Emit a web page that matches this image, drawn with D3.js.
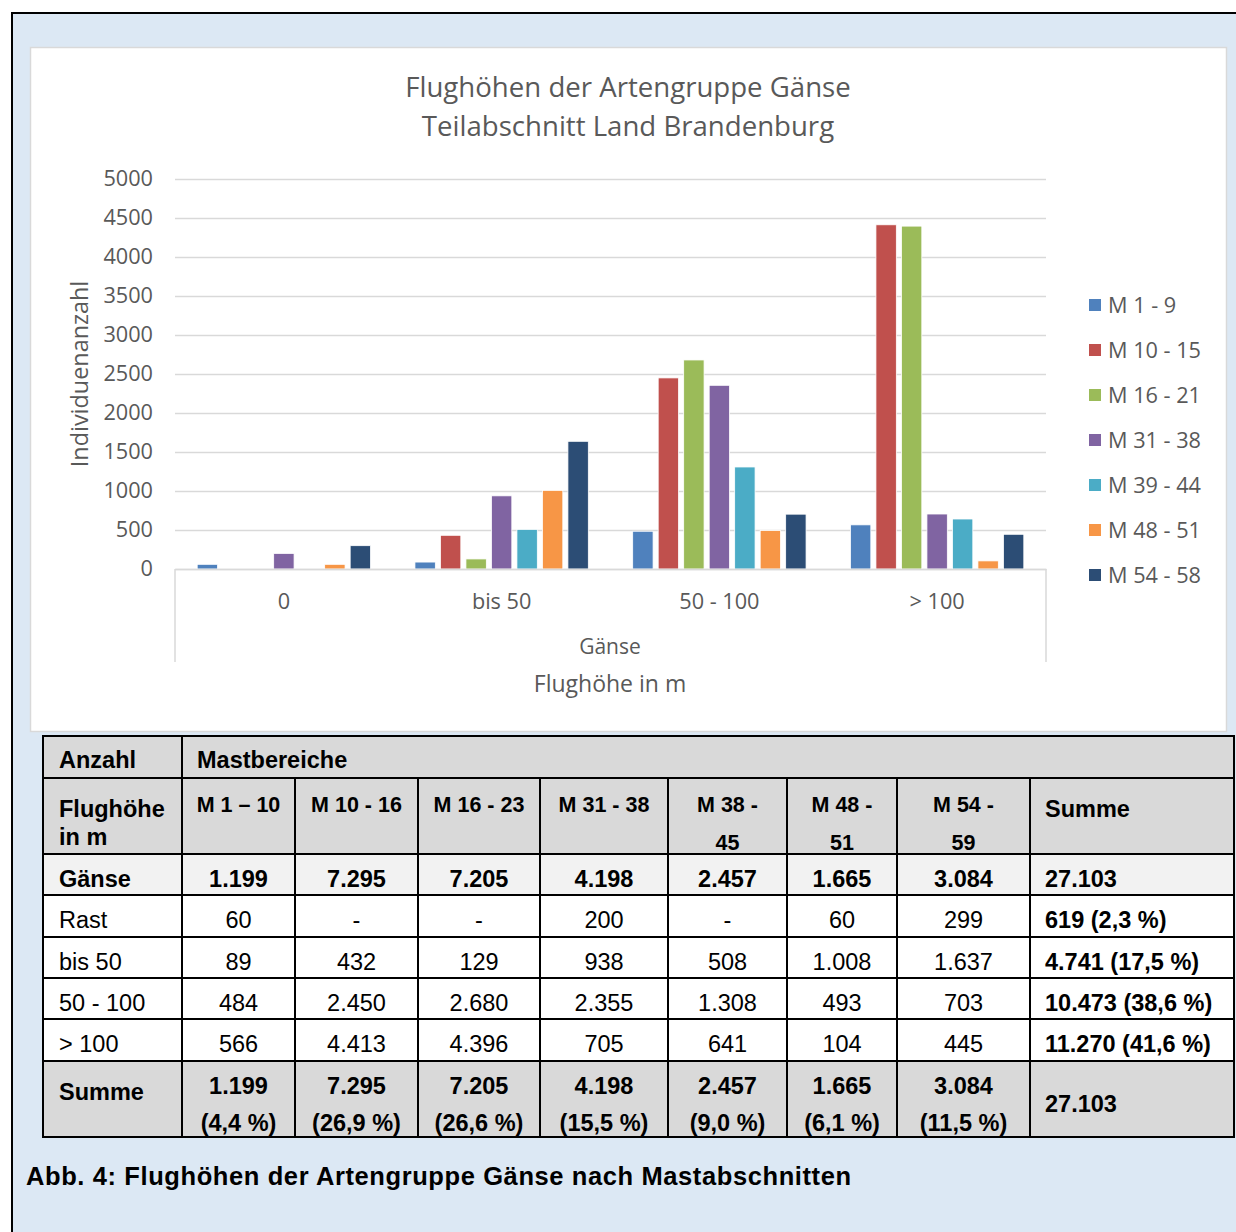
<!DOCTYPE html>
<html><head><meta charset="utf-8">
<script src="https://cdn.jsdelivr.net/npm/d3@7"></script>
<style>html,body{margin:0;padding:0;background:#fff;} svg{display:block;}</style>
</head><body>
<script>
// ---------- DATA ----------
const categories = ["0", "bis 50", "50 - 100", "> 100"];
const seriesNames = ["M 1 - 9", "M 10 - 15", "M 16 - 21", "M 31 - 38", "M 39 - 44", "M 48 - 51", "M 54 - 58"];
const seriesColors = ["#4F81BD", "#C0504D", "#9BBB59", "#8064A2", "#4BACC6", "#F79646", "#2C4D75"];
const valuesM1  = [60, 89, 484, 566];
const valuesM10 = [0, 432, 2450, 4413];
const valuesM16 = [0, 129, 2680, 4396];
const valuesM31 = [200, 938, 2355, 705];
const valuesM39 = [0, 508, 1308, 641];
const valuesM48 = [60, 1008, 493, 104];
const valuesM54 = [299, 1637, 703, 445];
const yTicks = [0, 500, 1000, 1500, 2000, 2500, 3000, 3500, 4000, 4500, 5000];
const chartTitle = ["Flughöhen der Artengruppe Gänse", "Teilabschnitt Land Brandenburg"];
const yTitle = "Individuenanzahl";
const xGroupLabel = "Gänse";
const xTitle = "Flughöhe in m";

const tableTopLeft = "Anzahl";
const tableTopSpan = "Mastbereiche";
const tableRowHead = ["Flughöhe", "in m"];
const tableColHeads = [["M 1 – 10"], ["M 10 - 16"], ["M 16 - 23"], ["M 31 - 38"], ["M 38 -", "45"], ["M 48 -", "51"], ["M 54 -", "59"]];
const tableSumHead = "Summe";
const rowGaense = ["Gänse", "1.199", "7.295", "7.205", "4.198", "2.457", "1.665", "3.084", "27.103"];
const rowRast   = ["Rast", "60", "-", "-", "200", "-", "60", "299", "619 (2,3 %)"];
const rowBis50  = ["bis 50", "89", "432", "129", "938", "508", "1.008", "1.637", "4.741 (17,5 %)"];
const row50100  = ["50 - 100", "484", "2.450", "2.680", "2.355", "1.308", "493", "703", "10.473 (38,6 %)"];
const rowGt100  = ["> 100", "566", "4.413", "4.396", "705", "641", "104", "445", "11.270 (41,6 %)"];
const sumValues = ["1.199", "7.295", "7.205", "4.198", "2.457", "1.665", "3.084"];
const sumPercents = ["(4,4 %)", "(26,9 %)", "(26,6 %)", "(15,5 %)", "(9,0 %)", "(6,1 %)", "(11,5 %)"];
const sumTotal = "27.103";
const caption = "Abb. 4: Flughöhen der Artengruppe Gänse nach Mastabschnitten";

// ---------- BUILD ----------
const seriesValues = [valuesM1, valuesM10, valuesM16, valuesM31, valuesM39, valuesM48, valuesM54];
const W = 1236, H = 1232;
const svg = d3.select("body").append("svg").attr("width", W).attr("height", H);
const chartFont = "'Open Sans', sans-serif";
const tableFont = "'Liberation Sans', Arial, sans-serif";
const grey = "#595959";
const fs = 21.7;

// background + outer frame
svg.append("rect").attr("x", 0).attr("y", 0).attr("width", W).attr("height", H).attr("fill", "#ffffff");
svg.append("rect").attr("x", 12).attr("y", 13).attr("width", W + 10).attr("height", H + 10)
  .attr("fill", "#dce8f4").attr("stroke", "#000").attr("stroke-width", 2);

// chart panel
svg.append("rect").attr("x", 30.5).attr("y", 47.5).attr("width", 1196).attr("height", 684)
  .attr("fill", "#fff").attr("stroke", "#d9d9d9").attr("stroke-width", 1.5);

// title
svg.append("g").selectAll("text").data(chartTitle).join("text")
  .attr("x", 628).attr("y", (d, i) => 97 + i * 39)
  .attr("text-anchor", "middle").attr("font-family", chartFont).attr("font-size", 27.6)
  .attr("fill", grey).text(d => d);

// scales
const y = d3.scaleLinear().domain([0, 5000]).range([569, 179]);
const x0 = d3.scaleBand().domain(categories).range([175, 1046]).paddingInner(0).paddingOuter(0);
const x1 = d3.scaleBand().domain(seriesNames).range([0, x0.bandwidth()]).paddingInner(0.2).paddingOuter(0.87);

// gridlines + y axis
const yAxis = d3.axisLeft(y).tickValues(yTicks).tickSize(-(1046 - 175)).tickPadding(22).tickFormat(d3.format("d"));
const gy = svg.append("g").attr("transform", "translate(175,0)").call(yAxis);
gy.select(".domain").remove();
gy.selectAll(".tick line").attr("stroke", "#d9d9d9").attr("stroke-width", 1.5);
gy.selectAll(".tick text").attr("font-family", chartFont).attr("font-size", fs).attr("fill", grey);

// bars
const groups = svg.append("g").selectAll("g").data(categories).join("g")
  .attr("transform", d => `translate(${x0(d)},0)`);
groups.selectAll("rect").data((c, ci) => seriesNames.map((s, si) => ({ s, si, v: seriesValues[si][ci] })))
  .join("rect")
  .attr("x", d => x1(d.s)).attr("width", x1.bandwidth())
  .attr("y", d => y(d.v)).attr("height", d => y(0) - y(d.v))
  .attr("fill", d => seriesColors[d.si])
  .attr("stroke", d => d.v > 0 ? "#ffffff" : "none").attr("stroke-width", 0.8);

// x axis (category axis with outer dividers)
const xAxis = d3.axisBottom(x0).tickSize(0).tickPadding(25);
const gx = svg.append("g").attr("transform", `translate(0,${y(0)})`).call(xAxis);
gx.select(".domain").attr("stroke", "#d9d9d9").attr("stroke-width", 1.5);
gx.selectAll(".tick text").attr("font-family", chartFont).attr("font-size", fs).attr("fill", grey);
svg.append("g").selectAll("line").data(x0.range()).join("line")
  .attr("x1", d => d).attr("x2", d => d).attr("y1", y(0)).attr("y2", 662)
  .attr("stroke", "#d9d9d9").attr("stroke-width", 1.5);
svg.append("text").attr("x", 610).attr("y", 654).attr("text-anchor", "middle")
  .attr("font-family", chartFont).attr("font-size", 21).attr("fill", grey).text(xGroupLabel);
svg.append("text").attr("x", 610).attr("y", 692).attr("text-anchor", "middle")
  .attr("font-family", chartFont).attr("font-size", 23).attr("fill", grey).text(xTitle);
svg.append("text").attr("transform", "translate(88,374) rotate(-90)").attr("text-anchor", "middle")
  .attr("font-family", chartFont).attr("font-size", 23.4).attr("fill", grey).text(yTitle);

// legend
const leg = svg.append("g").selectAll("g").data(seriesNames).join("g")
  .attr("transform", (d, i) => `translate(1089,${305 + i * 45})`);
leg.append("rect").attr("x", 0).attr("y", -6).attr("width", 12).attr("height", 12)
  .attr("fill", (d, i) => seriesColors[i]);
leg.append("text").attr("x", 19).attr("y", 0).attr("dy", "0.35em")
  .attr("font-family", chartFont).attr("font-size", fs).attr("fill", grey).text(d => d);

// ---------- TABLE ----------
const colX = [43, 182, 295, 418, 540, 668, 787, 897, 1030, 1234];
const rowY = [736, 778, 854, 895, 937, 978, 1019, 1061, 1137];
const tbl = svg.append("g");
const rowFills = ["#d9d9d9", "#d9d9d9", "#f2f2f2", "#fff", "#fff", "#fff", "#fff", "#d9d9d9"];
tbl.selectAll("rect.rowbg").data(rowFills).join("rect").attr("class", "rowbg")
  .attr("x", colX[0]).attr("width", colX[9] - colX[0])
  .attr("y", (d, i) => rowY[i]).attr("height", (d, i) => rowY[i + 1] - rowY[i]).attr("fill", d => d);

function txt(x, yy, s, opts) {
  tbl.append("text").attr("x", x).attr("y", yy).attr("dy", "0.36em")
    .attr("text-anchor", opts.anchor || "middle")
    .attr("font-family", tableFont).attr("font-size", opts.size || 23.5)
    .attr("font-weight", opts.bold ? "bold" : "normal").attr("fill", "#000").text(s);
}
const cx = i => (colX[i] + colX[i + 1]) / 2;
// row 1
txt(59, 760, tableTopLeft, { anchor: "start", bold: true });
txt(197, 760, tableTopSpan, { anchor: "start", bold: true });
// row 2
txt(59, 809, tableRowHead[0], { anchor: "start", bold: true });
txt(59, 837, tableRowHead[1], { anchor: "start", bold: true });
tableColHeads.forEach((h, i) => h.forEach((line, li) => txt(cx(i + 1), 804 + li * 38, line, { bold: true, size: 21.5 })));
txt(1045, 809, tableSumHead, { anchor: "start", bold: true });
// data rows
const dataRows = [rowGaense, rowRast, rowBis50, row50100, rowGt100];
dataRows.forEach((r, ri) => {
  const yy = (rowY[ri + 2] + rowY[ri + 3]) / 2 + 4;
  const bold = ri === 0;
  r.forEach((v, ci) => {
    if (ci === 0) txt(59, yy, v, { anchor: "start", bold });
    else if (ci === 8) txt(1045, yy, v, { anchor: "start", bold: true });
    else txt(cx(ci), yy, v, { bold });
  });
});
// sum row
txt(59, 1092, tableSumHead, { anchor: "start", bold: true });
sumValues.forEach((v, i) => txt(cx(i + 1), 1086, v, { bold: true }));
sumPercents.forEach((v, i) => txt(cx(i + 1), 1123, v, { bold: true }));
txt(1045, 1104, sumTotal, { anchor: "start", bold: true });

// grid lines
const lineAttrs = sel => sel.attr("stroke", "#000").attr("stroke-width", 2);
rowY.forEach(yy => tbl.append("line").attr("x1", colX[0] - 1).attr("x2", colX[9] + 1).attr("y1", yy).attr("y2", yy).call(lineAttrs));
[colX[0], colX[1], colX[9]].forEach(xx => tbl.append("line").attr("x1", xx).attr("x2", xx).attr("y1", rowY[0]).attr("y2", rowY[8]).call(lineAttrs));
colX.slice(2, 9).forEach(xx => tbl.append("line").attr("x1", xx).attr("x2", xx).attr("y1", rowY[1]).attr("y2", rowY[8]).call(lineAttrs));

// caption
svg.append("text").attr("x", 26).attr("y", 1176).attr("dy", "0.36em")
  .attr("font-family", tableFont).attr("font-size", 25.5).attr("letter-spacing", 0.6)
  .attr("font-weight", "bold").attr("fill", "#000").text(caption);
</script>
</body></html>
